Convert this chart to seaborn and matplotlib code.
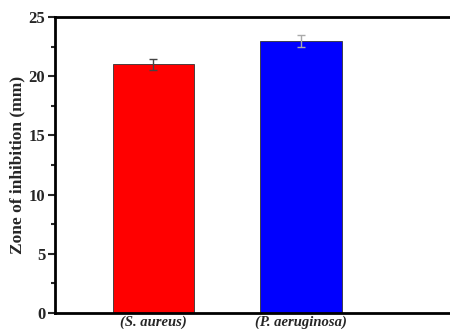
import pandas as pd
import seaborn as sns
import matplotlib.pyplot as plt
import numpy as np

# Datos
bacterias = ['(S. aureus)', '(P. aeruginosa)']
zona_mm = [21.0, 23.0]
error_mm = [0.5, 0.5]
colores = ['#ff0000', '#0000ff']
colores_err = ['#444444', '#aaaaaa']

df = pd.DataFrame({'bacteria': bacterias, 'zona': zona_mm})

sns.set_style('ticks')
plt.rcParams['font.family'] = ['Liberation Serif', 'DejaVu Serif']

fig = plt.figure(figsize=(4.5, 3.29), dpi=100)
ax = fig.add_axes([0.122, 0.049, 0.878, 0.899])

sns.barplot(data=df, x='bacteria', y='zona', hue='bacteria', palette=colores,
            saturation=1, width=0.55, edgecolor='#333333', linewidth=0.6,
            legend=False, ax=ax)

for i, (v, e) in enumerate(zip(zona_mm, error_mm)):
    ax.errorbar(i, v, yerr=e, fmt='none', ecolor=colores_err[i],
                elinewidth=1, capsize=3, capthick=1)

ax.set_xlim(-0.668, 2.01)
ax.set_ylim(0, 25)
ax.set_yticks(np.arange(0, 26, 5))
ax.set_yticks(np.arange(2.5, 25, 5), minor=True)
ax.tick_params(axis='y', which='major', direction='out', length=5, width=1.5,
               labelsize=12, pad=2)
ax.tick_params(axis='y', which='minor', direction='out', length=3, width=1.5)
ax.tick_params(axis='x', length=0, pad=2)
for lab in ax.get_yticklabels():
    lab.set_fontweight('bold')
for lab in ax.get_xticklabels():
    lab.set_fontweight('bold')
    lab.set_fontstyle('italic')
    lab.set_fontsize(10.5)

ax.set_xlabel('')
ax.set_ylabel('Zone of inhibition (mm)', fontsize=12.5, fontweight='bold', labelpad=2)

for s in ['left', 'top', 'bottom']:
    ax.spines[s].set_linewidth(2)
    ax.spines[s].set_color('black')
ax.spines['right'].set_visible(False)

fig.savefig('out.png', dpi=100)
